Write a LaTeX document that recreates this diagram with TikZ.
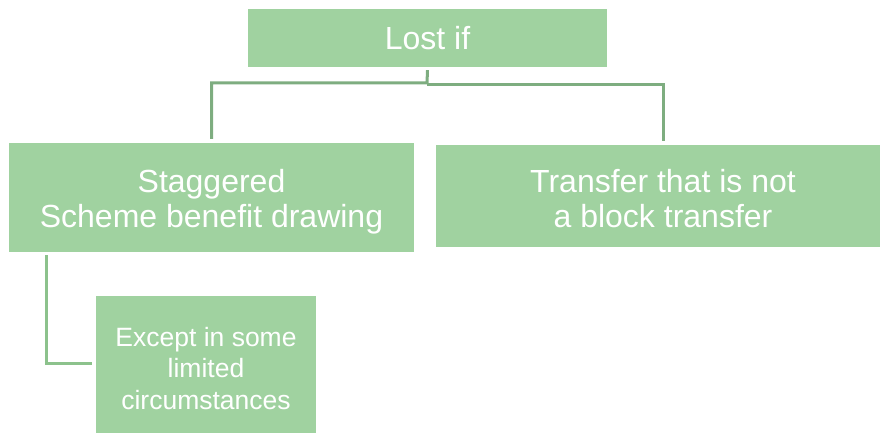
\documentclass[tikz,border=0pt]{standalone}
\usepackage{fontspec}
\setmainfont{Liberation Sans}
\definecolor{boxgreen}{HTML}{A0D2A0}
\definecolor{linegreen}{HTML}{7EAD80}
\definecolor{linegreenlight}{HTML}{8CC28C}
\begin{document}
\begin{tikzpicture}[x=1pt,y=-1pt,
  box/.style={fill=boxgreen, draw=none, inner sep=0pt},
  txt/.style={text=white, align=center, inner sep=0pt},
  bigtext/.style={font=\fontsize{32}{35}\selectfont},
  smalltext/.style={font=\fontsize{26.5}{31.5}\selectfont},
  conn/.style={draw=linegreen, line width=3pt},
  connlight/.style={draw=linegreenlight, line width=3pt}]
\useasboundingbox (0,0) rectangle (880,433);
\node[box, minimum width=359, minimum height=58] (lost) at (427.5,38) {};
\node[txt, bigtext] (losttext) at (lost.center) {Lost if};
\node[box, minimum width=405, minimum height=109] (left) at (211.5,197.5) {};
\node[txt, bigtext] (lefttext) at ([yshift=-4.5]left.center) {Staggered\\Scheme benefit drawing};
\node[box, minimum width=454, minimum height=102] (right) at (663,196) {};
\node[txt, bigtext] (righttext) at ([yshift=-2.5]right.center) {Transfer that is not\\a block transfer};
\node[box, minimum width=220, minimum height=137] (small) at (206,364.5) {};
\node[txt, smalltext] (smalltext) at ([yshift=-4]small.center) {Except in some\\limited\\circumstances};
\coordinate (j1) at (427,83);
\coordinate (j2) at (427,84.5);
\draw[conn] ([yshift=-3]lost.south) -- (j1) -| ([yshift=4]left.north);
\draw[conn] (j2) -| ([yshift=4]right.north);
\draw[connlight] ([xshift=38,yshift=-3]left.south west) |- ([xshift=-4,yshift=1.5]small.west);
\end{tikzpicture}
\end{document}
